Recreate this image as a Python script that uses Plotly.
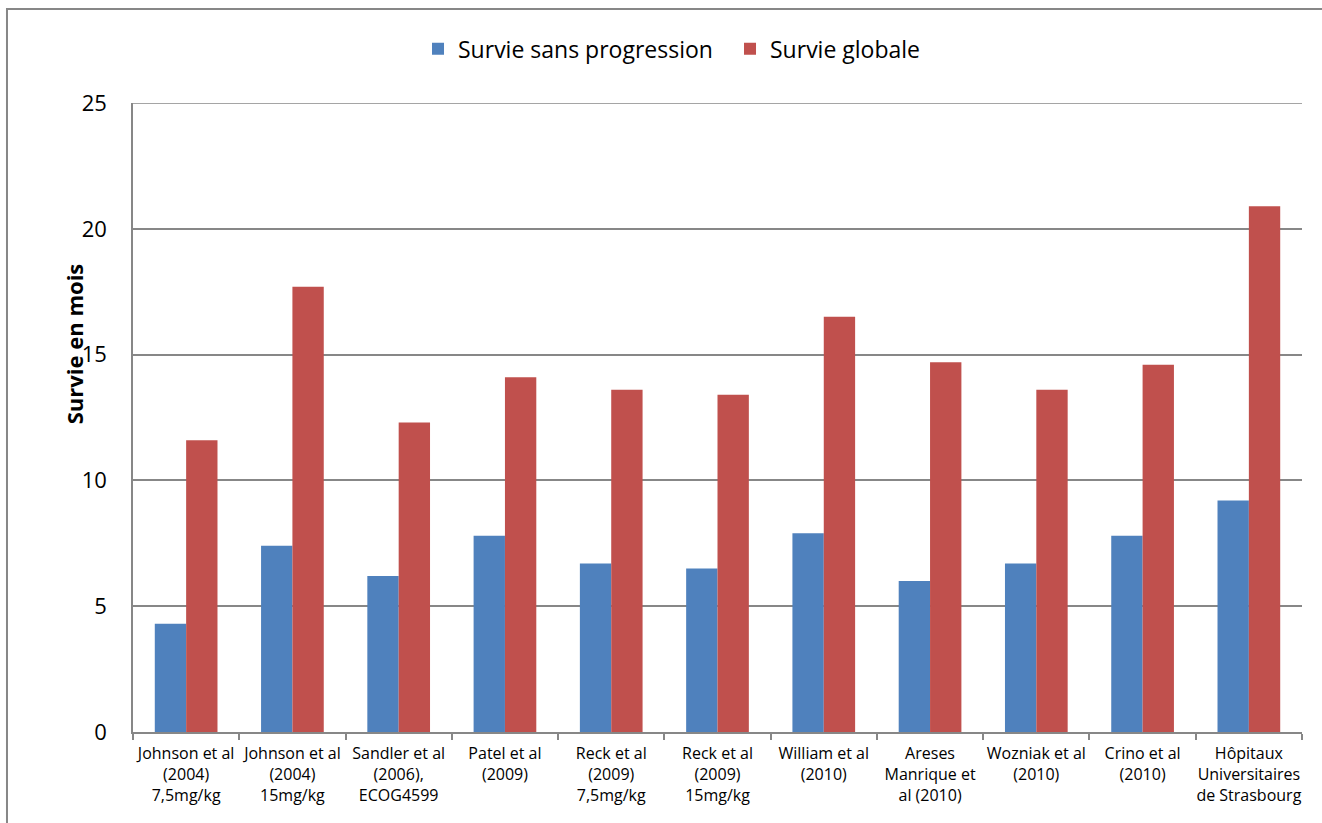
import plotly.graph_objects as go

categories = [
    "Johnson et al (2004) 7,5mg/kg",
    "Johnson et al (2004) 15mg/kg",
    "Sandler et al (2006), ECOG4599",
    "Patel et al (2009)",
    "Reck et al (2009) 7,5mg/kg",
    "Reck et al (2009) 15mg/kg",
    "William et al (2010)",
    "Areses Manrique et al (2010)",
    "Wozniak et al (2010)",
    "Crino et al (2010)",
    "Hôpitaux Universitaires de Strasbourg",
]
tick_labels = [
    "Johnson et al<br>(2004)<br>7,5mg/kg",
    "Johnson et al<br>(2004)<br>15mg/kg",
    "Sandler et al<br>(2006),<br>ECOG4599",
    "Patel et al<br>(2009)",
    "Reck et al<br>(2009)<br>7,5mg/kg",
    "Reck et al<br>(2009)<br>15mg/kg",
    "William et al<br>(2010)",
    "Areses<br>Manrique et<br>al (2010)",
    "Wozniak et al<br>(2010)",
    "Crino et al<br>(2010)",
    "Hôpitaux<br>Universitaires<br>de Strasbourg",
]
pfs = [4.3, 7.4, 6.2, 7.8, 6.7, 6.5, 7.9, 6.0, 6.7, 7.8, 9.2]
os_ = [11.6, 17.7, 12.3, 14.1, 13.6, 13.4, 16.5, 14.7, 13.6, 14.6, 20.9]
series_names = ["Survie sans progression", "Survie globale"]
y_ticks = [0, 5, 10, 15, 20, 25]
y_max = 25

FONT = "Open Sans, Calibri, Carlito, sans-serif"
GRID = "#878787"

fig = go.Figure()
fig.add_trace(go.Bar(x=categories, y=pfs, name=series_names[0],
                     marker=dict(color="#4F81BD", line=dict(width=0))))
fig.add_trace(go.Bar(x=categories, y=os_, name=series_names[1],
                     marker=dict(color="#C0504D", line=dict(width=0))))

fig.update_layout(
    width=1322, height=823,
    margin=dict(l=133, r=20, t=103, b=91, autoexpand=False),
    paper_bgcolor="white", plot_bgcolor="white",
    barmode="group", bargap=0.41, bargroupgap=0,
    font=dict(family=FONT, color="black"),
    showlegend=True,
    legend=dict(orientation="h", x=0.5107, xanchor="center", y=1.086, yanchor="middle",
                font=dict(size=23, family=FONT), traceorder="normal",
                itemwidth=30, entrywidth=267, bgcolor="rgba(0,0,0,0)"),
    xaxis=dict(
        type="category", tickvals=categories, ticktext=tick_labels,
        tickfont=dict(size=16, family=FONT), tickangle=0, automargin=False,
        showline=True, linecolor=GRID, linewidth=1.5,
        ticks="outside", tickson="boundaries", ticklen=6, tickcolor=GRID, tickwidth=1.5,
        showgrid=False, ticklabelstandoff=6,
    ),
    yaxis=dict(
        range=[0, y_max], tickvals=y_ticks, automargin=False,
        tickfont=dict(size=22, family=FONT),
        showline=True, linecolor=GRID, linewidth=1.5,
        showgrid=True, gridcolor=GRID, gridwidth=1.5,
        zeroline=False, ticks="", ticklabelstandoff=20,
    ),
    annotations=[dict(
        text="<b>Survie en mois</b>", xref="paper", yref="paper",
        x=-0.0505, y=0.618, xanchor="center", yanchor="middle",
        textangle=-90, showarrow=False, font=dict(size=22, family=FONT),
    )],
    shapes=[
        dict(type="rect", xref="paper", yref="paper",
             x0=-0.1078, y0=-0.4, x1=1.2, y1=1.1494,
             line=dict(color=GRID, width=2), layer="below"),
        dict(type="line", xref="paper", yref="y", x0=0, x1=1, y0=y_max, y1=y_max,
             line=dict(color=GRID, width=1.5), layer="below"),
    ],
)

fig.write_html("out.html")
